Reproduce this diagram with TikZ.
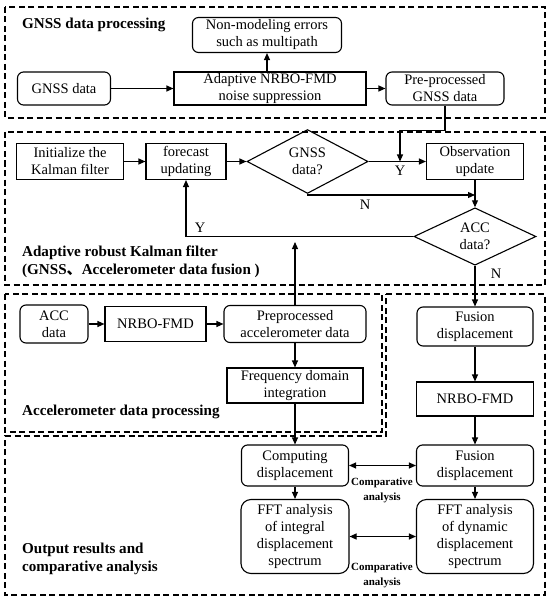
\documentclass[tikz,border=0pt]{standalone}
\usepackage{fontspec}
\setmainfont{Liberation Serif}
\newfontfamily\cjk{Noto Sans CJK SC}
\usetikzlibrary{shapes.geometric,arrows.meta}

\begin{document}
\begin{tikzpicture}[x=1pt, y=-1pt,
        every node/.style={font=\fontsize{14.5}{17}\selectfont, align=center, inner sep=0pt},
        rbox/.style={draw, line width=1.1pt, rounded corners=6pt},
        sbox/.style={draw, line width=1.1pt},
        decide/.style={draw, line width=1.1pt, diamond},
        frame/.style={line width=1.2pt, dash pattern=on 6pt off 3.5pt},
        arr/.style={line width=1.1pt, -{Triangle[length=7pt,width=6pt]}},
        darr/.style={line width=1.1pt, {Triangle[length=7pt,width=6pt]}-{Triangle[length=7pt,width=6pt]}},
        title/.style={anchor=west, align=left, font=\fontsize{15.1}{18}\selectfont\bfseries},
        cmp/.style={font=\fontsize{11}{15}\selectfont\bfseries},
        lab/.style={font=\fontsize{14.5}{17}\selectfont},
    ]
\useasboundingbox (0,0) rectangle (550,604);

%Dashed groups
\draw[frame] (5,7) rectangle (545,118);
\draw[frame] (5,132) rectangle (545,285);
\draw[frame] (5,294) rectangle (382,432);
\draw[frame] (386,294) -- (545,294) -- (545,595) -- (5,595) -- (5,436) -- (386,436) -- cycle;

%GNSS data processing
\node[title] (tgnss) at (22,25) {GNSS data processing};
\node[rbox, minimum width=149pt, minimum height=35pt] (nonmod) at (267,35) {Non-modeling errors\\such as multipath};
\node[rbox, minimum width=93pt, minimum height=33pt] (gnss) at (64,88.5) {GNSS data};
\node[sbox, minimum width=192pt, minimum height=33pt] (nrbo1) at (270,88.5) {Adaptive NRBO-FMD\\noise suppression};
\node[rbox, minimum width=118pt, minimum height=33pt] (prep) at (445,88.5) {Pre-processed\\GNSS data};

%Kalman filter
\node[sbox, minimum width=107pt, minimum height=36pt] (init) at (70,161.5) {Initialize the\\Kalman filter};
\node[sbox, minimum width=80pt, minimum height=36pt] (fcast) at (186,161.5) {forecast\\updating};
\node[decide, minimum width=121pt, minimum height=55pt] (gq) at (307.5,161.5) {GNSS\\data?};
\node[sbox, minimum width=97pt, minimum height=36pt] (obs) at (475,161.5) {Observation\\update};
\node[decide, minimum width=122pt, minimum height=53pt] (accq) at (475,236.5) {ACC\\data?};
\node[title] (tkal) at (22,262) {Adaptive robust Kalman filter\\(GNSS{\cjk 、}Accelerometer data fusion )};
\node[lab] (ly1) at (400,171) {Y};
\node[lab] (ln1) at (365,205) {N};
\node[lab] (ly2) at (200,228) {Y};
\node[lab] (ln2) at (496,274) {N};
\coordinate (yj) at (400,161.5);
\coordinate (nj) at (475,195);
\coordinate (up) at (295,242);

%Accelerometer data processing
\node[rbox, minimum width=68pt, minimum height=38pt] (accd) at (54,324) {ACC\\data};
\node[sbox, minimum width=101pt, minimum height=35pt] (nrbo2) at (155.5,324) {NRBO-FMD};
\node[rbox, minimum width=142pt, minimum height=37pt] (prepacc) at (295,324) {Preprocessed\\accelerometer data};
\node[sbox, minimum width=136pt, minimum height=35pt] (freq) at (295,385.5) {Frequency domain\\integration};
\node[title] (tacc) at (22,412) {Accelerometer data processing};

%Output results
\node[rbox, minimum width=116pt, minimum height=39pt] (fus1) at (475,326.5) {Fusion\\displacement};
\node[sbox, minimum width=117pt, minimum height=34pt] (nrbo3) at (475,399) {NRBO-FMD};
\node[rbox, minimum width=107pt, minimum height=41pt] (comp) at (295,465.5) {Computing\\displacement};
\node[rbox, minimum width=117pt, minimum height=41pt] (fus2) at (475,465.5) {Fusion\\displacement};
\node[rbox, rounded corners=10pt, minimum width=108pt, minimum height=74pt] (fft1) at (295,536.5) {FFT analysis\\of integral\\displacement\\spectrum};
\node[rbox, rounded corners=10pt, minimum width=117pt, minimum height=74pt] (fft2) at (475,536.5) {FFT analysis\\of dynamic\\displacement\\spectrum};
\node[cmp] (cmp1) at (382,490.5) {Comparative\\analysis};
\node[cmp] (cmp2) at (382,575.5) {Comparative\\analysis};
\node[title] (tout) at (22,558.5) {Output results and\\comparative analysis};

%Connectors
\draw[arr] (gnss) -- (nrbo1);
\draw[arr] (nrbo1) -- (prep);
\draw[arr] (nrbo1.north -| nonmod) -- (nonmod);
\draw[arr] (prep.south) -- ++(0,25) -| (yj);
\draw[arr] (init) -- (fcast);
\draw[arr] (fcast) -- (gq);
\draw[arr] (gq) -- (obs);
\draw[arr] (gq.south) |- (nj);
\draw[arr] (obs) -- (accq);
\draw[arr] (accq.west) -| (fcast.south);
\draw[arr] (accq) -- (fus1);
\draw[arr] (prepacc) -- (up);
\draw[arr] (accd) -- (nrbo2);
\draw[arr] (nrbo2) -- (prepacc);
\draw[arr] (prepacc) -- (freq);
\draw[arr] (freq) -- (comp);
\draw[arr] (fus1) -- (nrbo3);
\draw[arr] (nrbo3) -- (fus2);
\draw[arr] (comp) -- (fft1);
\draw[arr] (fus2) -- (fft2);
\draw[darr] (comp) -- (fus2);
\draw[darr] (fft1) -- (fft2);

\end{tikzpicture}
\end{document}
